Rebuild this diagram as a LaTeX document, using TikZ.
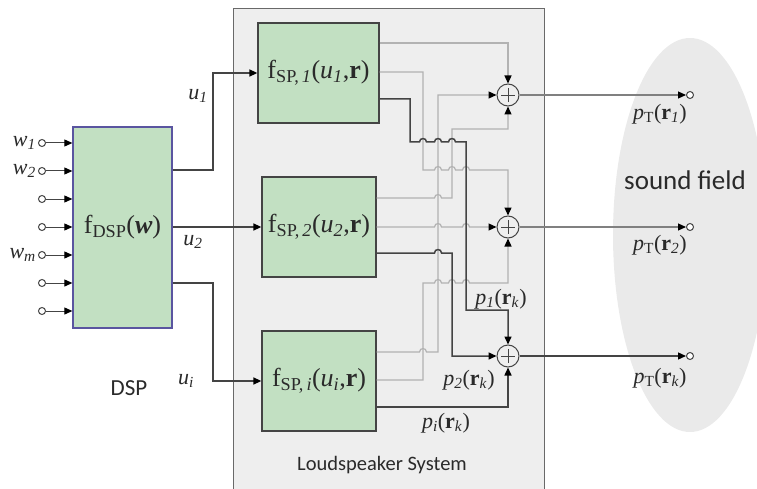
\documentclass[tikz,border=0pt]{standalone}
\usepackage{fontspec}
\setmainfont{Liberation Serif}
\newfontfamily\sanscal{Carlito}
\usetikzlibrary{arrows.meta}
\definecolor{blockgreen}{HTML}{C2E0C2}
\definecolor{dspborder}{HTML}{5A55A0}
\definecolor{boxfill}{HTML}{EEEEEE}
\definecolor{fieldfill}{HTML}{EAEAEA}
\definecolor{lightline}{HTML}{B2B2B2}
\definecolor{darkline}{HTML}{444444}
\definecolor{txt}{HTML}{2A2A2A}
\newcommand\hop[2]{-- ({#1-3.5},#2) .. controls ({#1-3.5},{#2-4.6}) and ({#1+3.5},{#2-4.6}) .. ({#1+3.5},#2)}
\tikzset{
  tip/.style={-{Triangle[length=8pt,width=7pt,color=black]}},
  block/.style={draw=darkline, fill=blockgreen, line width=1.3pt, inner sep=0pt, text=txt},
  light/.style={draw=lightline, line width=1.2pt},
  dark/.style={draw=darkline, line width=1.5pt},
  mainline/.style={draw=darkline, line width=1.5pt},
  summer/.style={circle, draw=darkline, fill=boxfill, minimum size=22pt, inner sep=0pt, line width=1pt},
  term/.style={circle, draw=darkline, fill=white, minimum size=7pt, inner sep=0pt, line width=1pt},
  lbl/.style={text=txt, font=\fontsize{22}{24}\selectfont, inner sep=0pt},
  big/.style={font=\fontsize{26}{28}\selectfont},
  sans/.style={text=txt, inner sep=0pt},
}
\begin{document}
\begin{tikzpicture}[x=1pt,y=-1pt]
\useasboundingbox (0,0) rectangle (757,489);
% sound field
\fill[fieldfill] (690,235) ellipse[x radius=77, y radius=197];
\node[sans, font=\sanscal\fontsize{27}{30}\selectfont] (sf) at (685,180) {sound field};
% loudspeaker box
\draw[draw=darkline!80, fill=boxfill, line width=1pt] (233,8.5) rectangle (544,500);
\node[sans, font=\sanscal\fontsize{20.5}{24}\selectfont] (lsys) at (382,465) {Loudspeaker System};
\node[sans, font=\sanscal\fontsize{23}{26}\selectfont] (dsplbl) at (129,388) {DSP};
% DSP block
\node[block, draw=dspborder, minimum width=99pt, minimum height=201pt, big] (DSP) at (122.5,227.5)
  {f\textsubscript{DSP}(\textbf{\textit{w}})};
% SP blocks
\node[block, minimum width=121pt, minimum height=100pt, big] (SP1) at (318.5,73)
  {f\textsubscript{SP,\,\textit{1}}(\textit{u}\textsubscript{\textit{1}},\textbf{r})};
\node[block, minimum width=114pt, minimum height=100pt, big] (SP2) at (319,227)
  {f\textsubscript{SP,\,\textit{2}}(\textit{u}\textsubscript{\textit{2}},\textbf{r})};
\node[block, minimum width=114pt, minimum height=100pt, big] (SP3) at (319,381)
  {f\textsubscript{SP,\,\textit{i}}(\textit{u}\textsubscript{\textit{i}},\textbf{r})};
% inputs
\foreach \k in {0,...,6}{
  \node[term] (in\k) at (42,{143+28*\k}) {};
  \draw[mainline, line width=1pt, tip] (in\k) -- (in\k -| DSP.west);
}
\node[lbl, anchor=east] (w1) at (36,143) {\textit{w}\textsubscript{\textit{1}}};
\node[lbl, anchor=east] (w2) at (36,171) {\textit{w}\textsubscript{\textit{2}}};
\node[lbl, anchor=east] (wm) at (36,255) {\textit{w}\textsubscript{\textit{m}}};
% DSP outputs
\coordinate (d1) at (DSP.east |- 0,170);
\coordinate (d2) at (DSP.east |- 0,227);
\coordinate (d3) at (DSP.east |- 0,283);
\draw[mainline, tip] (d1) -- (213,170) -- (213,73) -- (SP1.west);
\draw[mainline, tip] (d2) -- (SP2.west);
\draw[mainline, tip] (d3) -- (213,283) -- (213,381) -- (SP3.west);
\node[lbl] (u1) at (198,96) {\textit{u}\textsubscript{\textit{1}}};
\node[lbl] (u2) at (193,242) {\textit{u}\textsubscript{\textit{2}}};
\node[lbl] (ui) at (186,381) {\textit{u}\textsubscript{\textit{i}}};
% summers
\node[summer] (sum1) at (508,95) {};
\node[summer] (sum2) at (508,227) {};
\node[summer] (sum3) at (508,356) {};
\foreach \s in {sum1,sum2,sum3}{
  \draw[draw=darkline, line width=0.9pt] (\s.center) +(-7,0) -- +(7,0) +(0,-7) -- +(0,7);
}
% SP output ports
\coordinate (o11) at (SP1.east |- 0,43);
\coordinate (o12) at (SP1.east |- 0,72);
\coordinate (o13) at (SP1.east |- 0,99);
\coordinate (o21) at (SP2.east |- 0,198);
\coordinate (o22) at (SP2.east |- 0,227);
\coordinate (o23) at (SP2.east |- 0,253);
\coordinate (o31) at (SP3.east |- 0,352);
\coordinate (o32) at (SP3.east |- 0,380);
\coordinate (o33) at (SP3.east |- 0,407);
% light routes
\draw[light, tip] (o11) -- (o11 -| sum1) -- (sum1.north);
\draw[light, tip] (o12) -- (423,72) -- (423,170) \hop{438}{170} \hop{452}{170} \hop{466}{170} -- (508,170) -- (sum2.north);
\draw[light, tip] (o21) \hop{438}{198} -- (452,198) -- (452,129) -- (508,129) -- (sum1.south);
\draw[light, tip] (o22) \hop{438}{227} \hop{466}{227} -- (sum2.west);
\draw[light, tip] (o31) \hop{423}{352} -- (438,352) -- (438,95) -- (sum1.west);
\draw[light, tip] (o32) -- (423,380) -- (423,283) \hop{438}{283} \hop{452}{283} \hop{466}{283} -- (508,283) -- (sum2.south);
% dark routes
\draw[dark, tip] (o13) -- (410,99) -- (410,142) \hop{423}{142} \hop{438}{142} \hop{452}{142} -- (466,142) -- (466,310) -- (508,310) -- (sum3.north);
\draw[dark, tip] (o23) \hop{438}{253} -- (452,253) -- (452,356) -- (sum3.west);
\draw[dark, tip] (o33) -- (508,407) -- (sum3.south);
% labels p
\node[lbl] (p1) at (501,299) {\textit{p}\textsubscript{\textit{1}}(\textbf{r}\textsubscript{\textit{k}})};
\node[lbl] (p2) at (469,380) {\textit{p}\textsubscript{\textit{2}}(\textbf{r}\textsubscript{\textit{k}})};
\node[lbl] (pi) at (446,423) {\textit{p}\textsubscript{\textit{i}}(\textbf{r}\textsubscript{\textit{k}})};
% outputs to sound field
\node[term] (t1) at (690,95) {};
\node[term] (t2) at (690,227) {};
\node[term] (t3) at (690,356) {};
\draw[draw=gray, line width=1.1pt, tip] (sum1.east) -- (t1.west);
\draw[draw=gray, line width=1.1pt, tip] (sum2.east) -- (t2.west);
\draw[draw=darkline, line width=1.3pt, tip] (sum3.east) -- (t3.west);
\node[lbl] (pt1) at (660,114) {\textit{p}\textsubscript{T}(\textbf{r}\textsubscript{\textit{1}})};
\node[lbl] (pt2) at (660,245) {\textit{p}\textsubscript{T}(\textbf{r}\textsubscript{\textit{2}})};
\node[lbl] (pt3) at (660,378) {\textit{p}\textsubscript{T}(\textbf{r}\textsubscript{\textit{k}})};
\end{tikzpicture}
\end{document}
